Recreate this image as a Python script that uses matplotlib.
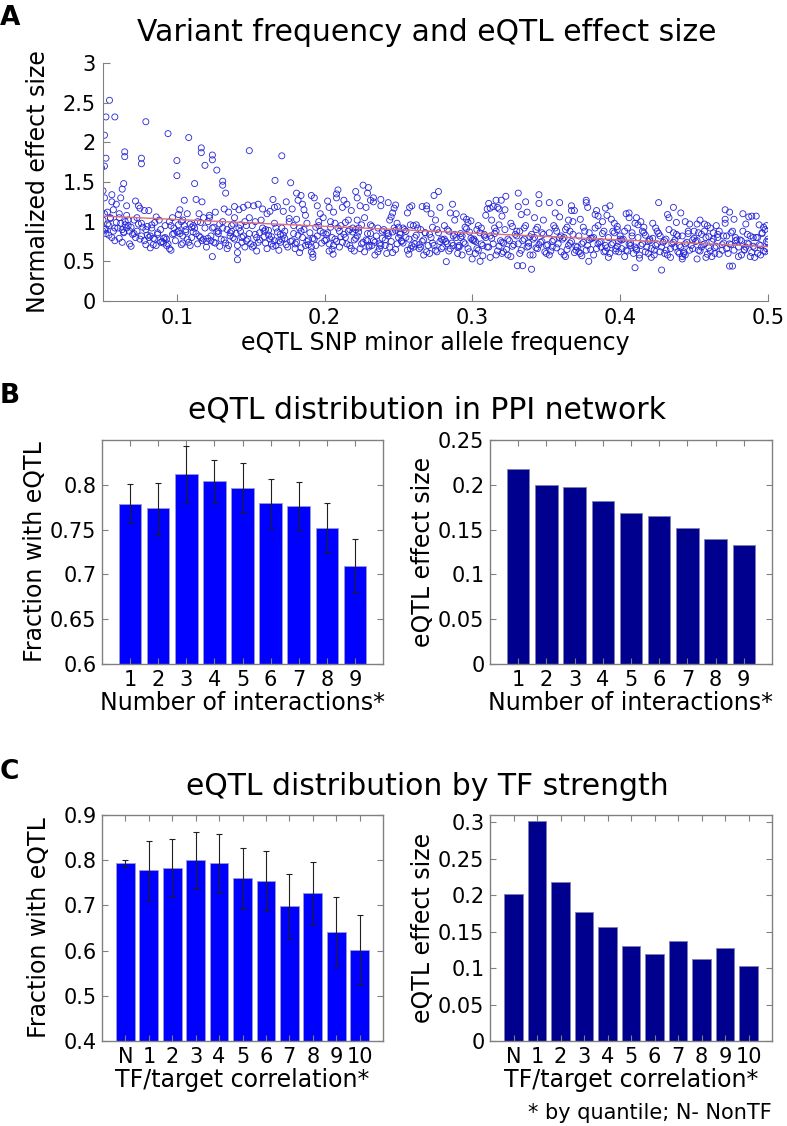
import matplotlib
matplotlib.use("Agg")
import matplotlib.pyplot as plt

plt.rcParams['font.family'] = ['DejaVu Sans']

# ---------------- Panel A data ----------------
maf_effect = [
    (0.0544, 2.53), (0.052, 2.32), (0.058, 2.32), (0.051, 2.09), (0.052, 1.80), (0.051, 1.70), (0.049, 1.68),
    (0.050, 1.39), (0.056, 1.34), (0.051, 1.30), (0.050, 1.02), (0.054, 0.95), (0.057, 0.88), (0.051, 1.10),
    (0.059, 1.22), (0.053, 0.97), (0.058, 0.92), (0.052, 0.85), (0.055, 1.05), (0.056, 0.80), (0.053, 1.12),
    (0.059, 0.99), (0.051, 0.90), (0.056, 1.25), (0.054, 0.83), (0.058, 0.76), (0.052, 0.91), (0.055, 1.04),
    (0.050, 0.88), (0.057, 1.15),
    (0.0647, 1.88), (0.0647, 1.82), (0.064, 1.48), (0.063, 1.41), (0.062, 1.30), (0.066, 1.20), (0.066, 1.08),
    (0.062, 0.98), (0.069, 0.93), (0.064, 0.87), (0.061, 1.05), (0.067, 0.95), (0.063, 0.90), (0.070, 0.84),
    (0.065, 1.00), (0.068, 0.72), (0.061, 0.79), (0.069, 0.69), (0.063, 0.74), (0.066, 0.92), (0.061, 1.10),
    (0.067, 1.02), (0.064, 0.86), (0.068, 0.88), (0.065, 0.96), (0.060, 0.92),
    (0.079, 2.26), (0.076, 1.80), (0.076, 1.73), (0.072, 1.26), (0.074, 1.20), (0.075, 1.17), (0.078, 1.14),
    (0.074, 0.97), (0.079, 0.90), (0.071, 0.85), (0.077, 0.93), (0.073, 0.88), (0.080, 0.83), (0.075, 0.78),
    (0.072, 0.80), (0.078, 0.76), (0.076, 0.82), (0.071, 1.02), (0.079, 0.71), (0.073, 1.05), (0.076, 0.98),
    (0.080, 0.94),
    (0.081, 1.14), (0.086, 1.06), (0.083, 0.96), (0.089, 0.90), (0.082, 0.82), (0.085, 0.78), (0.090, 0.75),
    (0.084, 0.71), (0.087, 0.86), (0.081, 0.80), (0.088, 1.02), (0.083, 0.92), (0.086, 0.70), (0.089, 0.74),
    (0.082, 0.67), (0.085, 0.99), (0.087, 0.84), (0.084, 0.79),
    (0.094, 2.11), (0.100, 1.77), (0.100, 1.58), (0.096, 0.95), (0.091, 0.79), (0.099, 0.76), (0.093, 0.78),
    (0.097, 0.84), (0.092, 0.80), (0.095, 1.00), (0.098, 0.92), (0.094, 0.72), (0.100, 0.87), (0.091, 0.73),
    (0.096, 0.64), (0.093, 0.70), (0.098, 0.85), (0.092, 0.95), (0.097, 1.05), (0.095, 0.66),
    (0.108, 2.06), (0.105, 1.27), (0.102, 1.15), (0.107, 1.10), (0.104, 1.02), (0.101, 1.09), (0.109, 0.97),
    (0.103, 1.00), (0.106, 0.87), (0.110, 0.80), (0.101, 0.88), (0.108, 0.74), (0.104, 0.82), (0.102, 0.85),
    (0.107, 0.78), (0.105, 0.95), (0.109, 0.70), (0.103, 0.71), (0.106, 0.90), (0.101, 0.96), (0.110, 0.93),
    (0.104, 0.73),
    (0.1165, 1.93), (0.1165, 1.87), (0.119, 1.71), (0.112, 1.48), (0.113, 1.28), (0.117, 1.25), (0.115, 1.10),
    (0.118, 1.05), (0.114, 1.00), (0.119, 0.92), (0.111, 0.87), (0.116, 0.80), (0.120, 0.75), (0.113, 0.85),
    (0.118, 0.78), (0.112, 0.92), (0.117, 0.76), (0.115, 0.82), (0.111, 0.95), (0.120, 0.68), (0.114, 0.72),
    (0.116, 0.99),
    (0.124, 1.84), (0.124, 1.78), (0.127, 1.65), (0.131, 1.51), (0.131, 1.46), (0.126, 1.12), (0.122, 1.05),
    (0.129, 0.97), (0.124, 0.92), (0.121, 1.00), (0.127, 0.87), (0.123, 0.82), (0.130, 0.78), (0.125, 0.74),
    (0.128, 0.85), (0.121, 0.79), (0.126, 0.73), (0.129, 0.69), (0.123, 0.76), (0.125, 0.93), (0.122, 1.08),
    (0.124, 0.56), (0.128, 0.88),
    (0.133, 1.36), (0.132, 1.16), (0.135, 1.12), (0.139, 1.05), (0.131, 1.00), (0.137, 0.95), (0.134, 0.90),
    (0.140, 0.85), (0.136, 0.82), (0.132, 0.77), (0.138, 0.80), (0.133, 0.73), (0.135, 0.70), (0.139, 0.78),
    (0.131, 0.92), (0.137, 0.88), (0.134, 0.66), (0.136, 0.86), (0.138, 0.97),
    (0.149, 1.895), (0.139, 1.19), (0.142, 1.15), (0.145, 1.18), (0.148, 1.21), (0.141, 0.61), (0.141, 0.52),
    (0.146, 1.00), (0.142, 0.92), (0.149, 0.85), (0.144, 0.80), (0.147, 0.76), (0.143, 0.88), (0.150, 0.72),
    (0.145, 0.82), (0.148, 0.78), (0.141, 0.70), (0.143, 0.96), (0.146, 0.68), (0.144, 0.74), (0.149, 1.05),
    (0.147, 0.95),
    (0.152, 1.20), (0.155, 1.22), (0.158, 1.16), (0.157, 1.02), (0.151, 0.95), (0.159, 0.88), (0.154, 0.80),
    (0.160, 0.73), (0.153, 0.84), (0.156, 0.77), (0.152, 0.70), (0.158, 0.92), (0.155, 0.74), (0.151, 0.68),
    (0.159, 0.81), (0.153, 1.00), (0.156, 0.86), (0.160, 0.90), (0.154, 0.63),
    (0.1664, 1.52), (0.171, 1.83), (0.161, 1.10), (0.163, 1.13), (0.165, 1.28), (0.166, 1.18), (0.168, 1.19),
    (0.167, 0.92), (0.162, 0.83), (0.169, 0.76), (0.164, 0.72), (0.161, 0.66), (0.167, 0.70), (0.163, 0.78),
    (0.170, 0.74), (0.165, 0.69), (0.168, 0.87), (0.166, 0.98), (0.162, 0.89), (0.169, 0.64), (0.164, 0.81),
    (0.170, 0.84), (0.166, 0.76),
    (0.177, 1.49), (0.174, 1.25), (0.172, 1.13), (0.178, 1.16), (0.176, 1.00), (0.171, 0.92), (0.179, 0.85),
    (0.173, 0.79), (0.180, 0.72), (0.175, 0.68), (0.172, 0.83), (0.178, 0.76), (0.174, 0.71), (0.177, 0.75),
    (0.171, 0.78), (0.179, 0.95), (0.173, 0.88), (0.176, 1.04), (0.180, 0.66),
    (0.181, 1.36), (0.182, 1.27), (0.184, 1.33), (0.185, 1.22), (0.183, 0.61), (0.186, 1.15), (0.188, 0.98),
    (0.183, 0.92), (0.190, 0.86), (0.185, 0.80), (0.181, 0.74), (0.187, 0.70), (0.184, 0.67), (0.189, 0.77),
    (0.182, 0.83), (0.186, 0.90), (0.188, 0.75), (0.181, 1.03), (0.184, 0.88), (0.189, 0.71), (0.187, 1.08),
    (0.192, 0.59), (0.192, 0.55), (0.191, 1.33), (0.193, 1.30), (0.195, 1.20), (0.197, 1.10), (0.196, 0.95),
    (0.199, 0.86), (0.193, 0.78), (0.198, 0.73), (0.191, 0.68), (0.195, 0.82), (0.200, 0.76), (0.194, 0.70),
    (0.197, 0.88), (0.192, 0.79), (0.199, 1.05), (0.194, 0.93), (0.196, 1.00), (0.191, 0.62),
    (0.2057, 0.59), (0.202, 1.26), (0.203, 1.18), (0.206, 1.12), (0.208, 1.35), (0.208, 1.30), (0.209, 1.40),
    (0.204, 1.00), (0.209, 0.92), (0.201, 0.84), (0.207, 0.78), (0.203, 0.72), (0.210, 0.68), (0.205, 0.80),
    (0.202, 0.86), (0.208, 0.75), (0.206, 0.70), (0.201, 0.77), (0.207, 0.98), (0.204, 0.93), (0.210, 0.88),
    (0.203, 0.63), (0.205, 0.65),
    (0.213, 1.27), (0.212, 1.18), (0.215, 1.22), (0.218, 1.14), (0.216, 1.02), (0.211, 0.95), (0.219, 0.87),
    (0.214, 0.80), (0.212, 0.74), (0.217, 0.70), (0.213, 0.84), (0.220, 0.77), (0.215, 0.72), (0.218, 0.66),
    (0.211, 0.81), (0.219, 0.92), (0.214, 0.99), (0.216, 0.88), (0.220, 0.63), (0.217, 0.90),
    (0.221, 1.38), (0.222, 1.30), (0.226, 1.46), (0.224, 1.20), (0.228, 1.18), (0.227, 1.05), (0.223, 0.92),
    (0.229, 0.85), (0.221, 0.79), (0.226, 0.74), (0.230, 0.70), (0.224, 0.66), (0.222, 0.82), (0.228, 0.77),
    (0.225, 0.72), (0.229, 0.76), (0.221, 0.90), (0.225, 0.96), (0.223, 0.87), (0.227, 0.62), (0.230, 0.68),
    (0.222, 1.02),
    (0.2296, 1.43), (0.229, 1.36), (0.231, 1.27), (0.233, 1.30), (0.233, 1.25), (0.238, 1.28), (0.238, 1.20),
    (0.236, 0.92), (0.231, 0.85), (0.239, 0.79), (0.234, 0.74), (0.232, 0.70), (0.237, 0.66), (0.240, 0.90),
    (0.235, 0.82), (0.233, 0.76), (0.238, 0.70), (0.236, 0.62), (0.231, 0.96), (0.239, 0.88), (0.234, 0.58),
    (0.232, 0.94), (0.237, 0.72),
    (0.243, 1.24), (0.248, 1.21), (0.247, 1.17), (0.246, 1.11), (0.245, 1.06), (0.244, 1.02), (0.249, 0.98),
    (0.247, 0.92), (0.242, 0.86), (0.250, 0.80), (0.245, 0.75), (0.241, 0.70), (0.248, 0.65), (0.243, 0.82),
    (0.246, 0.87), (0.241, 0.77), (0.249, 0.72), (0.244, 0.68), (0.242, 0.60), (0.250, 0.93), (0.246, 0.61),
    (0.243, 0.85), (0.248, 0.89),
    (0.2575, 1.18), (0.256, 1.11), (0.259, 1.20), (0.258, 0.96), (0.254, 0.90), (0.251, 0.84), (0.257, 0.78),
    (0.253, 0.73), (0.260, 0.68), (0.255, 0.80), (0.252, 0.75), (0.259, 0.70), (0.256, 0.64), (0.251, 0.86),
    (0.258, 0.66), (0.253, 0.92), (0.255, 0.88), (0.252, 0.76), (0.257, 0.59), (0.260, 0.95),
    (0.269, 1.20), (0.269, 1.16), (0.266, 1.19), (0.263, 0.92), (0.268, 0.86), (0.261, 0.80), (0.266, 0.75),
    (0.270, 0.70), (0.264, 0.66), (0.262, 0.83), (0.267, 0.77), (0.261, 0.72), (0.265, 0.68), (0.269, 0.62),
    (0.262, 0.96), (0.265, 0.90), (0.268, 0.86), (0.264, 0.71), (0.267, 0.58),
    (0.274, 1.33), (0.277, 1.38), (0.278, 1.18), (0.272, 1.10), (0.275, 1.02), (0.276, 0.90), (0.271, 0.84),
    (0.279, 0.78), (0.273, 0.73), (0.280, 0.68), (0.275, 0.64), (0.272, 0.80), (0.278, 0.75), (0.274, 0.70),
    (0.277, 0.86), (0.279, 0.66), (0.271, 0.60), (0.273, 0.93), (0.276, 0.62), (0.280, 0.77),
    (0.2823, 0.496), (0.2865, 1.22), (0.285, 1.11), (0.289, 1.10), (0.288, 1.02), (0.283, 0.90), (0.288, 0.84),
    (0.281, 0.78), (0.286, 0.73), (0.290, 0.68), (0.284, 0.63), (0.289, 0.80), (0.282, 0.75), (0.287, 0.70),
    (0.285, 0.66), (0.290, 0.60), (0.281, 0.95), (0.284, 0.88), (0.287, 0.82), (0.283, 0.72),
    (0.2998, 0.53), (0.294, 1.06), (0.296, 1.03), (0.297, 0.99), (0.299, 1.01), (0.296, 0.91), (0.292, 0.85),
    (0.299, 0.79), (0.294, 0.74), (0.291, 0.70), (0.297, 0.66), (0.293, 0.82), (0.300, 0.77), (0.295, 0.72),
    (0.298, 0.62), (0.291, 0.68), (0.295, 0.93), (0.293, 0.58), (0.298, 0.87), (0.292, 0.80),
    (0.3052, 0.50), (0.303, 0.90), (0.308, 0.84), (0.301, 0.78), (0.306, 0.72), (0.310, 0.68), (0.304, 0.64),
    (0.309, 0.80), (0.302, 0.75), (0.307, 0.70), (0.305, 0.86), (0.302, 0.60), (0.304, 0.95), (0.306, 0.92),
    (0.309, 1.08), (0.310, 1.16), (0.303, 0.66), (0.307, 0.57), (0.308, 0.82), (0.301, 0.76),
    (0.311, 1.23), (0.312, 1.17), (0.314, 1.19), (0.316, 1.27), (0.317, 1.18), (0.313, 1.02), (0.316, 0.88),
    (0.312, 0.82), (0.319, 0.76), (0.314, 0.72), (0.311, 0.68), (0.317, 0.63), (0.313, 0.79), (0.320, 0.74),
    (0.315, 0.85), (0.318, 0.69), (0.312, 0.55), (0.315, 0.92), (0.318, 0.96), (0.320, 0.60), (0.316, 0.58),
    (0.3226, 1.32), (0.3195, 1.27), (0.318, 1.16), (0.322, 1.15), (0.320, 1.07), (0.326, 0.98), (0.322, 0.90),
    (0.329, 0.84), (0.324, 0.78), (0.321, 0.73), (0.327, 0.69), (0.323, 0.65), (0.330, 0.82), (0.325, 0.76),
    (0.328, 0.71), (0.321, 0.62), (0.324, 0.58), (0.327, 0.94), (0.330, 0.88), (0.326, 0.56),
    (0.331, 1.36), (0.331, 1.19), (0.333, 1.09), (0.336, 1.25), (0.337, 1.12), (0.3304, 0.445), (0.334, 0.445),
    (0.340, 0.40), (0.336, 0.95), (0.332, 0.88), (0.339, 0.81), (0.334, 0.76), (0.331, 0.72), (0.337, 0.68),
    (0.333, 0.64), (0.340, 0.84), (0.335, 0.78), (0.338, 0.73), (0.332, 0.60), (0.335, 0.92), (0.338, 0.69),
    (0.339, 0.58),
    (0.345, 1.34), (0.345, 1.23), (0.342, 1.05), (0.348, 1.02), (0.343, 0.90), (0.348, 0.84), (0.341, 0.78),
    (0.346, 0.74), (0.350, 0.70), (0.344, 0.66), (0.349, 0.62), (0.342, 0.80), (0.347, 0.75), (0.345, 0.71),
    (0.341, 0.58), (0.344, 0.93), (0.347, 0.86), (0.350, 0.60), (0.343, 0.67),
    (0.352, 1.24), (0.359, 1.24), (0.356, 1.11), (0.359, 1.06), (0.356, 0.92), (0.352, 0.86), (0.359, 0.80),
    (0.354, 0.75), (0.351, 0.71), (0.357, 0.67), (0.353, 0.63), (0.360, 0.82), (0.355, 0.77), (0.358, 0.72),
    (0.352, 0.58), (0.355, 0.95), (0.357, 0.88), (0.360, 0.62), (0.354, 0.68),
    (0.367, 1.20), (0.367, 1.14), (0.369, 1.14), (0.365, 1.02), (0.368, 1.00), (0.363, 0.90), (0.368, 0.84),
    (0.361, 0.78), (0.366, 0.73), (0.370, 0.69), (0.364, 0.65), (0.369, 0.61), (0.362, 0.80), (0.367, 0.75),
    (0.365, 0.70), (0.362, 0.58), (0.364, 0.93), (0.366, 0.88), (0.370, 0.64), (0.363, 0.56),
    (0.377, 1.27), (0.377, 1.24), (0.378, 1.18), (0.3787, 0.50), (0.373, 1.03), (0.376, 0.88), (0.372, 0.82),
    (0.379, 0.77), (0.374, 0.72), (0.371, 0.68), (0.377, 0.64), (0.373, 0.60), (0.380, 0.79), (0.375, 0.74),
    (0.378, 0.70), (0.372, 0.62), (0.375, 0.93), (0.379, 0.86), (0.374, 0.57), (0.380, 0.65),
    (0.384, 1.14), (0.383, 1.09), (0.385, 1.07), (0.388, 1.00), (0.383, 0.92), (0.388, 0.85), (0.381, 0.79),
    (0.386, 0.74), (0.390, 0.70), (0.384, 0.66), (0.389, 0.62), (0.382, 0.80), (0.387, 0.75), (0.385, 0.72),
    (0.382, 0.58), (0.385, 0.95), (0.389, 0.88), (0.387, 0.68), (0.390, 0.63),
    (0.390, 1.17), (0.393, 1.20), (0.391, 1.08), (0.394, 1.03), (0.396, 0.98), (0.398, 0.94), (0.398, 0.90),
    (0.396, 0.86), (0.392, 0.80), (0.399, 0.75), (0.394, 0.71), (0.391, 0.67), (0.397, 0.63), (0.393, 0.60),
    (0.400, 0.78), (0.395, 0.73), (0.398, 0.69), (0.392, 0.55), (0.395, 0.88), (0.399, 0.62), (0.400, 0.82),
    (0.397, 0.66),
    (0.404, 1.10), (0.406, 1.11), (0.406, 1.05), (0.411, 1.05), (0.410, 0.98), (0.403, 0.88), (0.408, 0.82),
    (0.401, 0.77), (0.406, 0.72), (0.410, 0.68), (0.404, 0.64), (0.409, 0.60), (0.402, 0.78), (0.407, 0.73),
    (0.410, 0.42), (0.401, 0.66), (0.403, 0.56), (0.405, 0.92), (0.408, 0.86), (0.405, 0.63), (0.407, 0.70),
    (0.412, 0.96), (0.414, 1.00), (0.416, 0.93), (0.416, 0.86), (0.412, 0.80), (0.419, 0.75), (0.414, 0.70),
    (0.411, 0.66), (0.417, 0.62), (0.413, 0.58), (0.420, 0.76), (0.415, 0.72), (0.418, 0.68), (0.413, 0.54),
    (0.415, 0.88), (0.417, 0.83), (0.419, 0.60), (0.420, 0.78), (0.411, 0.64),
    (0.426, 1.24), (0.428, 0.39), (0.422, 0.98), (0.424, 0.92), (0.426, 0.85), (0.422, 0.79), (0.429, 0.74),
    (0.424, 0.70), (0.421, 0.66), (0.427, 0.62), (0.423, 0.58), (0.430, 0.76), (0.425, 0.72), (0.428, 0.68),
    (0.421, 0.55), (0.425, 0.88), (0.427, 0.82), (0.430, 0.60), (0.423, 0.64),
    (0.436, 1.18), (0.432, 1.09), (0.433, 1.05), (0.438, 0.99), (0.433, 0.90), (0.438, 0.84), (0.431, 0.78),
    (0.436, 0.74), (0.440, 0.70), (0.434, 0.66), (0.439, 0.62), (0.432, 0.58), (0.437, 0.77), (0.435, 0.72),
    (0.431, 0.64), (0.434, 0.55), (0.436, 0.86), (0.439, 0.82), (0.440, 0.60), (0.437, 0.68),
    (0.441, 1.11), (0.442, 0.53), (0.442, 0.56), (0.447, 0.97), (0.444, 1.00), (0.446, 0.88), (0.442, 0.82),
    (0.449, 0.77), (0.444, 0.72), (0.441, 0.68), (0.447, 0.64), (0.443, 0.60), (0.450, 0.79), (0.445, 0.74),
    (0.448, 0.70), (0.443, 0.62), (0.446, 0.85), (0.449, 0.66), (0.450, 0.88), (0.444, 0.58),
    (0.452, 0.97), (0.457, 0.97), (0.459, 0.95), (0.454, 1.02), (0.453, 0.86), (0.458, 0.80), (0.451, 0.75),
    (0.456, 0.71), (0.460, 0.67), (0.454, 0.63), (0.459, 0.59), (0.452, 0.76), (0.457, 0.72), (0.455, 0.68),
    (0.452, 0.53), (0.455, 0.84), (0.458, 0.55), (0.460, 0.81), (0.453, 0.64), (0.457, 0.88),
    (0.461, 0.92), (0.463, 0.86), (0.465, 0.95), (0.466, 0.80), (0.462, 0.75), (0.469, 0.71), (0.464, 0.67),
    (0.461, 0.63), (0.467, 0.59), (0.463, 0.78), (0.470, 0.73), (0.465, 0.69), (0.462, 0.56), (0.466, 0.84),
    (0.469, 0.64), (0.464, 0.60), (0.467, 0.88), (0.470, 0.82),
    (0.471, 1.15), (0.471, 1.03), (0.471, 0.98), (0.474, 1.12), (0.477, 1.03), (0.474, 0.44), (0.476, 0.44),
    (0.476, 0.88), (0.472, 0.82), (0.479, 0.77), (0.474, 0.72), (0.480, 0.68), (0.477, 0.64), (0.473, 0.60),
    (0.478, 0.76), (0.475, 0.71), (0.472, 0.66), (0.475, 0.86), (0.478, 0.80), (0.480, 0.56),
    (0.483, 1.10), (0.487, 1.06), (0.489, 1.07), (0.485, 0.97), (0.483, 0.88), (0.488, 0.82), (0.481, 0.77),
    (0.486, 0.73), (0.490, 0.69), (0.484, 0.65), (0.489, 0.61), (0.482, 0.76), (0.487, 0.72), (0.485, 0.68),
    (0.482, 0.58), (0.486, 0.84), (0.488, 0.56), (0.490, 0.80), (0.484, 0.64),
    (0.492, 1.07), (0.491, 0.55), (0.494, 0.96), (0.497, 0.93), (0.498, 0.90), (0.499, 0.95), (0.496, 0.86),
    (0.492, 0.80), (0.499, 0.75), (0.494, 0.71), (0.491, 0.67), (0.497, 0.63), (0.493, 0.80), (0.500, 0.74),
    (0.495, 0.70), (0.498, 0.62), (0.493, 0.60), (0.496, 0.85), (0.500, 0.78), (0.495, 0.58), (0.499, 0.66),
]
maf = [p[0] for p in maf_effect]
effect = [p[1] for p in maf_effect]
trend_x = [0.05, 0.5]
trend_y = [1.07, 0.685]

# ---------------- Panel B data ----------------
ppi_labels = ['1', '2', '3', '4', '5', '6', '7', '8', '9']
ppi_frac = [0.779, 0.774, 0.812, 0.804, 0.796, 0.780, 0.776, 0.752, 0.709]
ppi_err_hi = [0.801, 0.802, 0.843, 0.828, 0.824, 0.807, 0.803, 0.780, 0.739]
ppi_err_lo = [0.757, 0.744, 0.781, 0.781, 0.769, 0.752, 0.749, 0.724, 0.679]
ppi_effect = [0.218, 0.200, 0.198, 0.182, 0.169, 0.165, 0.152, 0.140, 0.133]

# ---------------- Panel C data ----------------
tf_labels = ['N', '1', '2', '3', '4', '5', '6', '7', '8', '9', '10']
tf_frac = [0.793, 0.778, 0.783, 0.800, 0.794, 0.760, 0.754, 0.698, 0.728, 0.642, 0.601]
tf_err_hi = [0.800, 0.843, 0.848, 0.862, 0.857, 0.827, 0.821, 0.769, 0.797, 0.718, 0.678]
tf_err_lo = [0.786, 0.713, 0.719, 0.737, 0.730, 0.693, 0.687, 0.626, 0.659, 0.565, 0.524]
tf_effect = [0.202, 0.302, 0.218, 0.177, 0.157, 0.130, 0.119, 0.137, 0.112, 0.127, 0.103]

W, H = 787, 1126
fig = plt.figure(figsize=(W / 100, H / 100), dpi=100)

SPINE = '#808080'
TICK_FS = 15
LAB_FS = 17
TITLE_FS = 21.5
LETTER_FS = 19
BLUE = '#0000ff'
NAVY = '#00008f'


def ax_rect(x0, y0, x1, y1):
    return [x0 / W, 1 - y1 / H, (x1 - x0) / W, (y1 - y0) / H]


def fy(y):
    return 1 - y / H


def style_box(ax):
    for s in ax.spines.values():
        s.set_color(SPINE)
        s.set_linewidth(1.0)
    ax.tick_params(direction='in', top=True, right=True, length=4, width=0.8,
                   color=SPINE, labelsize=TICK_FS, pad=4)


# Panel A
axA = fig.add_axes(ax_rect(103, 63, 768, 301))
axA.scatter(maf, effect, s=19, facecolors='none', edgecolors='#2424d8', linewidths=0.6)
axA.plot(trend_x, trend_y, color='#e07070', lw=1.0)
axA.set_xlim(0.05, 0.5)
axA.set_ylim(0, 3)
axA.set_xticks([0.1, 0.2, 0.3, 0.4, 0.5])
axA.set_xticklabels(['0.1', '0.2', '0.3', '0.4', '0.5'])
axA.set_yticks([0, 0.5, 1, 1.5, 2, 2.5, 3])
axA.set_yticklabels(['0', '0.5', '1', '1.5', '2', '2.5', '3'])
for s in ['top', 'right']:
    axA.spines[s].set_visible(False)
for s in ['left', 'bottom']:
    axA.spines[s].set_color(SPINE)
axA.tick_params(direction='in', length=5, width=0.8, color=SPINE, labelsize=TICK_FS, pad=5)
axA.set_xlabel('eQTL SNP minor allele frequency', fontsize=LAB_FS, labelpad=2)
axA.set_ylabel('Normalized effect size', fontsize=LAB_FS, labelpad=9)

fig.text(427 / W, fy(41), 'Variant frequency and eQTL effect size', fontsize=TITLE_FS,
         ha='center', va='baseline')
fig.text(0 / W, fy(25), 'A', fontsize=LETTER_FS, fontweight='bold', ha='left', va='baseline')

# Panel B left
xB = list(range(1, len(ppi_labels) + 1))
axB1 = fig.add_axes(ax_rect(102, 440, 383, 664))
errB = [[f - lo for f, lo in zip(ppi_frac, ppi_err_lo)], [hi - f for f, hi in zip(ppi_frac, ppi_err_hi)]]
axB1.bar(xB, [f - 0.6 for f in ppi_frac], bottom=0.6, width=0.8, color=BLUE, edgecolor='#9a9ad0', linewidth=0.6)
axB1.errorbar(xB, ppi_frac, yerr=errB, fmt='none', ecolor='#202020', elinewidth=0.8, capsize=2, capthick=0.8)
axB1.set_xlim(0, len(ppi_labels) + 1)
axB1.set_ylim(0.6, 0.85)
axB1.set_xticks(xB)
axB1.set_xticklabels(ppi_labels)
axB1.set_yticks([0.6, 0.65, 0.7, 0.75, 0.8])
axB1.set_yticklabels(['0.6', '0.65', '0.7', '0.75', '0.8'])
style_box(axB1)
axB1.set_xlabel('Number of interactions*', fontsize=LAB_FS, labelpad=1)
axB1.set_ylabel('Fraction with eQTL', fontsize=LAB_FS, labelpad=2)

# Panel B right
axB2 = fig.add_axes(ax_rect(490, 440, 772, 664))
axB2.bar(xB, ppi_effect, width=0.8, color=NAVY, edgecolor='#8080b0', linewidth=0.6)
axB2.set_xlim(0, len(ppi_labels) + 1)
axB2.set_ylim(0, 0.25)
axB2.set_xticks(xB)
axB2.set_xticklabels(ppi_labels)
axB2.set_yticks([0, 0.05, 0.1, 0.15, 0.2, 0.25])
axB2.set_yticklabels(['0', '0.05', '0.1', '0.15', '0.2', '0.25'])
style_box(axB2)
axB2.set_xlabel('Number of interactions*', fontsize=LAB_FS, labelpad=1)
axB2.set_ylabel('eQTL effect size', fontsize=LAB_FS, labelpad=2)

fig.text(427 / W, fy(419), 'eQTL distribution in PPI network', fontsize=TITLE_FS,
         ha='center', va='baseline')
fig.text(0 / W, fy(403), 'B', fontsize=LETTER_FS, fontweight='bold', ha='left', va='baseline')

# Panel C left
xC = list(range(1, len(tf_labels) + 1))
axC1 = fig.add_axes(ax_rect(102, 815, 383, 1041))
errC = [[f - lo for f, lo in zip(tf_frac, tf_err_lo)], [hi - f for f, hi in zip(tf_frac, tf_err_hi)]]
axC1.bar(xC, [f - 0.4 for f in tf_frac], bottom=0.4, width=0.8, color=BLUE, edgecolor='#9a9ad0', linewidth=0.6)
axC1.errorbar(xC, tf_frac, yerr=errC, fmt='none', ecolor='#202020', elinewidth=0.8, capsize=2, capthick=0.8)
axC1.set_xlim(0, len(tf_labels) + 1)
axC1.set_ylim(0.4, 0.9)
axC1.set_xticks(xC)
axC1.set_xticklabels(tf_labels)
axC1.set_yticks([0.4, 0.5, 0.6, 0.7, 0.8, 0.9])
axC1.set_yticklabels(['0.4', '0.5', '0.6', '0.7', '0.8', '0.9'])
style_box(axC1)
axC1.set_xlabel('TF/target correlation*', fontsize=LAB_FS, labelpad=1)
axC1.set_ylabel('Fraction with eQTL', fontsize=LAB_FS, labelpad=9)

# Panel C right
axC2 = fig.add_axes(ax_rect(490, 815, 772, 1041))
axC2.bar(xC, tf_effect, width=0.8, color=NAVY, edgecolor='#8080b0', linewidth=0.6)
axC2.set_xlim(0, len(tf_labels) + 1)
axC2.set_ylim(0, 0.31)
axC2.set_xticks(xC)
axC2.set_xticklabels(tf_labels)
axC2.set_yticks([0, 0.05, 0.1, 0.15, 0.2, 0.25, 0.3])
axC2.set_yticklabels(['0', '0.05', '0.1', '0.15', '0.2', '0.25', '0.3'])
style_box(axC2)
axC2.set_xlabel('TF/target correlation*', fontsize=LAB_FS, labelpad=1)
axC2.set_ylabel('eQTL effect size', fontsize=LAB_FS, labelpad=2)

fig.text(427 / W, fy(795), 'eQTL distribution by TF strength', fontsize=TITLE_FS,
         ha='center', va='baseline')
fig.text(0 / W, fy(779), 'C', fontsize=LETTER_FS, fontweight='bold', ha='left', va='baseline')

fig.text(772 / W, fy(1113), '* by quantile; N- NonTF', fontsize=15, ha='right', va='center')

fig.savefig('out.png', dpi=100)
